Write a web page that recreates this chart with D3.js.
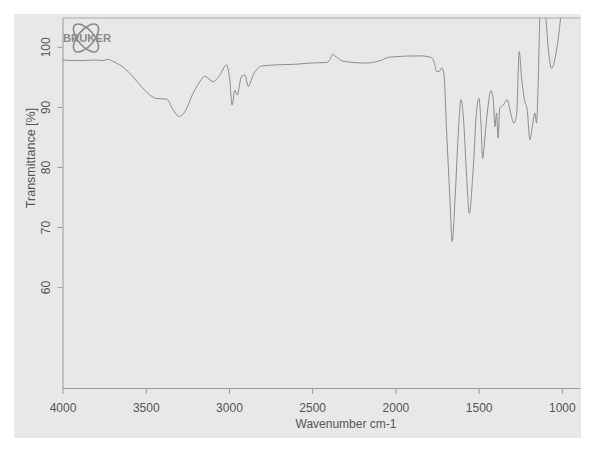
<!DOCTYPE html>
<html>
<head>
<meta charset="utf-8">
<script src="https://cdn.jsdelivr.net/npm/d3@7"></script>
<style>
  html, body { margin: 0; padding: 0; background: #ffffff; }
  svg { display: block; font-family: "Liberation Sans", Arial, sans-serif; }
</style>
</head>
<body>
<svg id="chart" width="600" height="450"></svg>
<script>
// ---- data ----
const wavenumbers = [4000,3900,3800,3760,3726,3700,3656,3596,3536,3476,3436,3375,3335,3299,3265,3215,3175,3145,3095,3055,3015,2995,2981,2965,2951,2924,2904,2884,2855,2804,2714,2600,2514,2414,2394,2378,2364,2344,2314,2173,2093,2033,1853,1783,1763,1753,1737,1722,1709,1692,1672,1659,1642,1622,1606,1592,1572,1556,1532,1512,1498,1486,1476,1462,1446,1426,1412,1402,1392,1383,1373,1352,1328,1312,1288,1272,1256,1242,1222,1208,1192,1176,1162,1152,1142,1132,1115,1096,1082,1061,1041,1021,1007,980,940,891];
const transmittance = [97.8,97.7,97.8,97.7,97.9,97.6,97.0,95.6,93.7,92.0,91.4,91.3,89.5,88.4,89.2,92.3,94.2,95.1,94.2,95.3,97.0,94.5,90.3,92.8,92.0,95.1,95.3,93.4,95.3,96.8,97.0,97.1,97.3,97.4,97.8,98.8,98.5,98.1,97.6,97.3,97.7,98.3,98.5,98.2,97.0,95.9,95.9,96.5,95.6,85.7,74.5,67.6,74.5,85.7,91.2,88.4,78.4,72.3,80.0,89.5,91.4,87.3,81.4,85.0,89.5,92.7,91.2,86.7,89.0,84.8,89.8,90.3,91.2,89.5,87.3,88.7,99.2,94.8,90.9,89.5,84.5,87.0,89.0,87.3,94.2,104.8,108,104.8,99.8,96.4,98.1,101.5,104.8,108,110,110];
const xTicks = [4000, 3500, 3000, 2500, 2000, 1500, 1000];
const yTicks = [60, 70, 80, 90, 100];
const xTitle = "Wavenumber cm-1";
const yTitle = "Transmittance [%]";
const logoText = "BRUKER";

// ---- layout ----
const svg = d3.select("#chart");
const L = 62.5, R = 580, T = 18, B = 388;
const gray = "#9a9a9a", textCol = "#555555", lineCol = "#8c8c8c";

svg.append("rect").attr("x", 14).attr("y", 14).attr("width", 567).attr("height", 424)
  .attr("fill", "#e8e8e8");

const x = d3.scaleLinear().domain([4000, 891]).range([L, R]);
const y = d3.scaleLinear().domain([43.2, 104.8]).range([B, T]);

// top frame line
svg.append("line").attr("x1", L).attr("x2", R).attr("y1", T).attr("y2", T)
  .attr("stroke", "#aaaaaa").attr("stroke-width", 1);

// x axis
const gx = svg.append("g").attr("transform", `translate(0,${B})`)
  .call(d3.axisBottom(x).tickValues(xTicks).tickFormat(d3.format("d"))
    .tickSize(6).tickSizeOuter(0).tickPadding(9));
gx.select(".domain").attr("stroke", gray);
gx.selectAll(".tick line").attr("stroke", gray);
gx.selectAll(".tick text").attr("fill", textCol).attr("font-size", 12)
  .attr("font-family", "Liberation Sans, Arial, sans-serif");

// y axis
const gy = svg.append("g").attr("transform", `translate(${L},0)`)
  .call(d3.axisLeft(y).tickValues(yTicks).tickFormat(d3.format("d")).tickSize(5).tickSizeOuter(0));
gy.select(".domain").attr("stroke", gray);
gy.selectAll(".tick line").attr("stroke", gray);
gy.selectAll(".tick text").attr("fill", textCol).attr("font-size", 12)
  .attr("font-family", "Liberation Sans, Arial, sans-serif")
  .attr("text-anchor", "middle").attr("x", null)
  .attr("transform", "translate(-17,0) rotate(-90)").attr("dy", "0.35em");

// titles
svg.append("text").attr("x", 346).attr("y", 428)
  .attr("text-anchor", "middle").attr("font-size", 12).attr("fill", textCol).text(xTitle);
svg.append("text").attr("transform", "translate(35,158) rotate(-90)")
  .attr("text-anchor", "middle").attr("font-size", 12.5).attr("fill", textCol).text(yTitle);

// logo
const logo = svg.append("g").attr("transform", "translate(86,38)");
[-40, 40].forEach(a => {
  logo.append("ellipse").attr("rx", 8).attr("ry", 17).attr("transform", `rotate(${a})`)
    .attr("fill", "none").attr("stroke", "#8a8a8a").attr("stroke-width", 1.6);
});
logo.append("text").attr("x", -23).attr("y", 4).attr("font-size", 10).attr("font-weight", "bold")
  .attr("fill", "#8a8a8a").attr("textLength", 48).attr("lengthAdjust", "spacingAndGlyphs").text(logoText);

// clip + spectrum
svg.append("clipPath").attr("id", "clip").append("rect")
  .attr("x", L).attr("y", T).attr("width", R - L).attr("height", B - T);
const pts = wavenumbers.map((w, i) => [w, transmittance[i]]);
svg.append("path").datum(pts).attr("clip-path", "url(#clip)")
  .attr("fill", "none").attr("stroke", lineCol).attr("stroke-width", 1)
  .attr("d", d3.line().x(d => x(d[0])).y(d => y(d[1])).curve(d3.curveMonotoneX));
</script>
</body>
</html>
